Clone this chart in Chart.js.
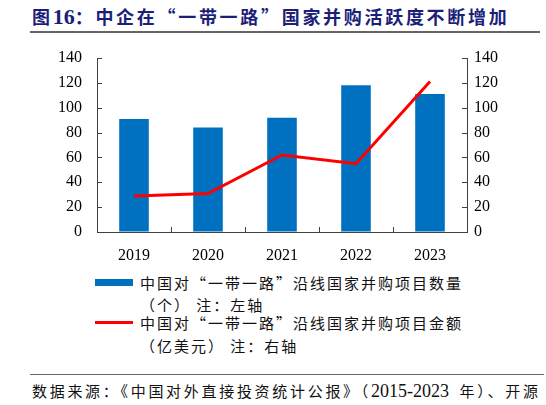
<!DOCTYPE html>
<html>
<head>
<meta charset="utf-8">
<script src="https://cdn.jsdelivr.net/npm/chart.js@4.4.1/dist/chart.umd.min.js"></script>
<style>
  body { margin: 0; width: 546px; height: 405px; background: #fff; overflow: hidden; position: relative; }
  .title { position: absolute; left: 32px; top: 3px; font: bold 18px "Noto Sans CJK SC", sans-serif; letter-spacing: 2.7px; color: #1b1f7a; white-space: nowrap; }
  .title .num { font-family: "Liberation Serif", serif; font-size: 22px; letter-spacing: 0; }
  .rule { position: absolute; left: 30px; height: 0; border-top: 2px solid #666; }
  #wrap { position: absolute; left: 0; top: 45px; width: 546px; height: 225px; }
  .legend { position: absolute; left: 140px; font: 15px "Noto Sans CJK SC", sans-serif; letter-spacing: 2px; color: #111; white-space: nowrap; line-height: 22px; }
  .swatch { position: absolute; left: 95px; width: 38px; }
  .source { position: absolute; left: 32px; top: 380px; font: 15px "Noto Sans CJK SC", sans-serif; letter-spacing: 2.7px; color: #111; white-space: nowrap; }
  .source .num { font-family: "Liberation Serif", serif; font-size: 18px; letter-spacing: 0; }
</style>
</head>
<body>
<div class="title">图<span class="num">16</span>：中企在“一带一路”国家并购活跃度不断增加</div>
<div class="rule" style="top:31px; width:510px;"></div>
<div id="wrap"><canvas id="chart"></canvas></div>

<div class="swatch" style="top:279px; height:7px; background:#0070c0;"></div>
<div class="legend" style="top:272px;">中国对“一带一路”沿线国家并购项目数量</div>
<div class="legend" style="top:294px;">（个） 注：左轴</div>
<div class="swatch" style="top:321px; height:3px; background:#ff0000;"></div>
<div class="legend" style="top:312px;">中国对“一带一路”沿线国家并购项目金额</div>
<div class="legend" style="top:335px;">（亿美元） 注：右轴</div>

<div class="rule" style="top:374px; width:514px; border-top-width:1.5px;"></div>
<div class="source">数据来源：《中国对外直接投资统计公报》（<span class="num">2015-2023&nbsp;</span> 年）、开源</div>

<script>
// Data
const years = ["2019", "2020", "2021", "2022", "2023"]
const dealCount = [91, 84, 92, 118, 111]      // 项目数量（个），左轴
const dealAmount = [29, 31, 62, 55, 121]      // 项目金额（亿美元），右轴
const yTicks = [0, 20, 40, 60, 80, 100, 120, 140]

const axisColor = "#404040"
const tickFont = { family: "'Liberation Serif', 'Times New Roman', serif", size: 16 }

// inward tick marks like the original
const tickMarks = {
  id: "tickMarks",
  afterDraw(chart) {
    const { ctx, chartArea, scales } = chart
    ctx.save()
    ctx.strokeStyle = axisColor
    ctx.lineWidth = 1
    ctx.beginPath()
    yTicks.forEach((v) => {
      const y = Math.round(scales.y.getPixelForValue(v)) + 0.5
      ctx.moveTo(chartArea.left, y)
      ctx.lineTo(chartArea.left + 5, y)
      const y1 = Math.round(scales.y1.getPixelForValue(v)) + 0.5
      ctx.moveTo(chartArea.right - 5, y1)
      ctx.lineTo(chartArea.right, y1)
    })
    for (let i = 1; i < years.length; i++) {
      const x = Math.round(scales.x.getPixelForValue(i - 0.5)) + 0.5
      ctx.moveTo(x, chartArea.bottom)
      ctx.lineTo(x, chartArea.bottom - 5)
    }
    ctx.stroke()
    ctx.restore()
  },
}

// fixed axis sizes so the plot area sits where the original has it
function fixVertical(width) {
  return (scale) => {
    scale.width = width
    scale.paddingTop = 0
    scale.paddingBottom = 0
  }
}

new Chart(document.getElementById("chart"), {
  data: {
    labels: years,
    datasets: [
      {
        type: "line",
        label: "中国对“一带一路”沿线国家并购项目金额（亿美元）",
        data: dealAmount,
        yAxisID: "y1",
        borderColor: "#ff0000",
        borderWidth: 3,
        pointRadius: 0,
        tension: 0,
        order: 0,
      },
      {
        type: "bar",
        label: "中国对“一带一路”沿线国家并购项目数量（个）",
        data: dealCount,
        yAxisID: "y",
        backgroundColor: "#0070c0",
        barPercentage: 0.4,
        categoryPercentage: 1,
        order: 1,
      },
    ],
  },
  options: {
    responsive: true,
    maintainAspectRatio: false,
    animation: false,
    layout: { padding: { top: 13, left: 0, right: 0, bottom: 0 } },
    plugins: {
      legend: { display: false },
      tooltip: { enabled: false },
    },
    scales: {
      x: {
        offset: true,
        grid: { display: false, drawTicks: false },
        border: { display: true, color: axisColor, width: 1 },
        ticks: { color: "#000", font: tickFont, padding: 14 },
        afterFit: (scale) => { scale.height = 38 },
      },
      y: {
        position: "left",
        min: 0,
        max: 140,
        grid: { drawOnChartArea: false, drawTicks: false },
        border: { display: true, color: axisColor, width: 1 },
        ticks: { stepSize: 20, color: "#000", font: tickFont, padding: 15 },
        afterFit: fixVertical(97),
      },
      y1: {
        position: "right",
        min: 0,
        max: 140,
        grid: { drawOnChartArea: false, drawTicks: false },
        border: { display: true, color: axisColor, width: 1 },
        ticks: { stepSize: 20, color: "#000", font: tickFont, padding: 7 },
        afterFit: fixVertical(79),
      },
    },
  },
  plugins: [tickMarks],
})
</script>
</body>
</html>
